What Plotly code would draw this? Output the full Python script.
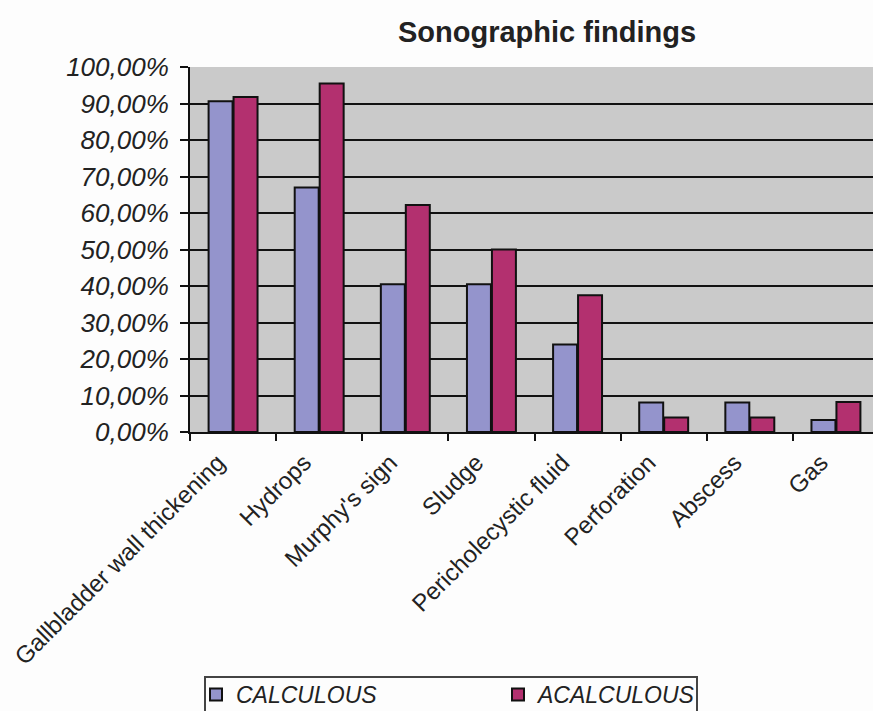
import plotly.graph_objects as go

categories = ["Gallbladder wall thickening", "Hydrops", "Murphy's sign", "Sludge",
              "Pericholecystic fluid", "Perforation", "Abscess", "Gas"]
calculous = [90.6, 67.0, 40.5, 40.5, 24.0, 8.1, 8.1, 3.3]
acalculous = [91.8, 95.5, 62.2, 50.0, 37.5, 4.0, 4.0, 8.2]
ytick_vals = [0, 10, 20, 30, 40, 50, 60, 70, 80, 90, 100]
ytick_text = ["0,00%", "10,00%", "20,00%", "30,00%", "40,00%", "50,00%",
              "60,00%", "70,00%", "80,00%", "90,00%", "100,00%"]

W, H = 879, 711
L, T, B = 190, 67, 279
PW, PH = W - L, H - T - B

fig = go.Figure()
fig.add_trace(go.Bar(name="CALCULOUS", x=categories, y=calculous,
                     marker=dict(color="#9494cc", line=dict(color="#111111", width=2))))
fig.add_trace(go.Bar(name="ACALCULOUS", x=categories, y=acalculous,
                     marker=dict(color="#b3306f", line=dict(color="#111111", width=2))))

# legend frame
fig.add_shape(type="rect", xref="paper", yref="paper",
              x0=(205 - L) / PW, x1=(697 - L) / PW,
              y0=-(677 - (T + PH)) / PH, y1=-(730 - (T + PH)) / PH,
              line=dict(color="#444444", width=2), fillcolor="rgba(0,0,0,0)", layer="above")

fig.update_layout(
    width=W, height=H,
    margin=dict(l=L, r=0, t=T, b=B, autoexpand=False),
    paper_bgcolor="#fdfdfd",
    plot_bgcolor="#cacaca",
    barmode="group", bargap=0.42, bargroupgap=0.04,
    font=dict(family="Liberation Sans, Arial", color="#222222"),
    title=dict(text="<b>Sonographic findings</b>", x=547 / W, xanchor="center",
               y=1 - 32 / H, yanchor="middle", font=dict(size=29, color="#222222")),
    showlegend=True,
    legend=dict(orientation="h", x=(196 - L) / PW, xanchor="left",
                y=-(673 - (T + PH)) / PH, yanchor="top",
                font=dict(size=23, style="italic", color="#222222"),
                borderwidth=0, bgcolor="rgba(0,0,0,0)",
                entrywidth=257, entrywidthmode="pixels", traceorder="normal",
                itemsizing="constant"),
)
fig.update_xaxes(tickangle=-45, tickfont=dict(size=24, color="#222222"),
                 showline=True, linecolor="#111111", linewidth=2, automargin=False,
                 ticks="outside", tickson="boundaries", ticklen=7, tickwidth=2, tickcolor="#111111",
                 ticklabelshift=-15, ticklabelstandoff=5,
                 showgrid=False)
fig.update_yaxes(range=[0, 100], tickvals=ytick_vals, ticktext=ytick_text,
                 tickfont=dict(size=26, style="italic", color="#222222"), automargin=False,
                 showline=True, linecolor="#111111", linewidth=2, ticklabelstandoff=6,
                 ticks="outside", ticklen=8, tickwidth=2, tickcolor="#111111",
                 showgrid=True, gridcolor="#111111", gridwidth=2, zeroline=False)

fig.write_html("out.html", config={"responsive": False, "displayModeBar": False},
               post_script="document.body.style.margin='0px';document.body.style.overflow='hidden';")
